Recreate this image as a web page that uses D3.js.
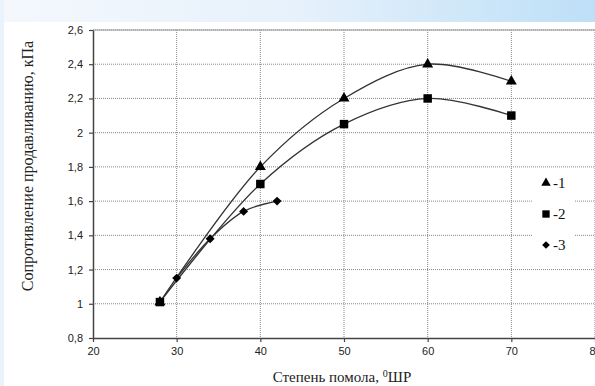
<!DOCTYPE html>
<html><head><meta charset="utf-8">
<script src="https://cdn.jsdelivr.net/npm/d3@7"></script>
<style>html,body{margin:0;padding:0;background:#fff;}svg{display:block;}</style>
</head><body>
<svg id="c" width="595" height="386"></svg>
<script>
const xTicks = [20, 30, 40, 50, 60, 70, 80];
const yTicks = [0.8, 1, 1.2, 1.4, 1.6, 1.8, 2, 2.2, 2.4, 2.6];
const s1x = [28, 40, 50, 60, 70];
const s1y = [1.01, 1.8, 2.2, 2.4, 2.3];
const s2x = [28, 40, 50, 60, 70];
const s2y = [1.01, 1.7, 2.05, 2.2, 2.1];
const s3x = [30, 34, 38, 42];
const s3y = [1.15, 1.38, 1.54, 1.6];
const legendLabels = ["-1", "-2", "-3"];

const svg = d3.select("#c");
const defs = svg.append("defs");
const g1 = defs.append("linearGradient").attr("id","topg").attr("x1","0").attr("x2","1").attr("y1","0").attr("y2","0");
g1.append("stop").attr("offset","0").attr("stop-color","#f4f8fd");
g1.append("stop").attr("offset","0.5").attr("stop-color","#e6f1fb");
g1.append("stop").attr("offset","1").attr("stop-color","#bddff7");
svg.append("rect").attr("x",0).attr("y",0).attr("width",595).attr("height",22).attr("fill","url(#topg)");
svg.append("rect").attr("x",0).attr("y",0).attr("width",4).attr("height",386).attr("fill","#eaf3fc");

const L = 93, R = 595, T = 30, B = 338;
const x = d3.scaleLinear().domain([20, 80]).range([L, R]);
const y = d3.scaleLinear().domain([0.8, 2.6]).range([B, T]);

// grid
const grid = svg.append("g");
grid.selectAll("line.gx").data(xTicks.slice(1)).enter().append("line")
  .attr("x1", d => x(d)).attr("x2", d => x(d)).attr("y1", T).attr("y2", B)
  .attr("stroke", "#888").attr("stroke-width", 1).attr("stroke-dasharray", "1,1");
grid.selectAll("line.gy").data(yTicks.slice(1)).enter().append("line")
  .attr("x1", L).attr("x2", R).attr("y1", d => y(d)).attr("y2", d => y(d))
  .attr("stroke", "#888").attr("stroke-width", 1).attr("stroke-dasharray", "1,1");
svg.append("line").attr("x1", L).attr("x2", R).attr("y1", T).attr("y2", T).attr("stroke", "#999").attr("stroke-width", 1);

// axes
const fmt = d => String(+d.toFixed(1)).replace(".", ",");
const ax = svg.append("g").attr("transform", `translate(0,${B})`)
  .call(d3.axisBottom(x).tickValues(xTicks).tickSize(4).tickSizeOuter(0).tickFormat(d3.format("d")));
const ay = svg.append("g").attr("transform", `translate(${L},0)`)
  .call(d3.axisLeft(y).tickValues(yTicks).tickSize(4).tickSizeOuter(0).tickFormat(fmt));
[ax, ay].forEach(a => {
  a.select(".domain").attr("stroke", "#444").attr("stroke-width", 1.5);
  a.selectAll(".tick line").attr("stroke", "#444").attr("stroke-width", 1.2);
  a.selectAll(".tick text").attr("font-family", "Liberation Sans, Arial, sans-serif").attr("font-size", 11).attr("fill", "#222");
});
ax.selectAll(".tick text").attr("dy", "0.71em").attr("y", 9);
ay.selectAll(".tick text").attr("x", -10);

// curves
const line = d3.line().x(d => x(d[0])).y(d => y(d[1])).curve(d3.curveCatmullRom.alpha(0.5));
const series = [
  { xs: s1x, ys: s1y, sym: d3.symbolTriangle, size: 52, rot: 0 },
  { xs: s2x, ys: s2y, sym: d3.symbolSquare, size: 72, rot: 0 },
  { xs: s3x, ys: s3y, sym: d3.symbolSquare, size: 40, rot: 45 }
];
series.forEach(s => {
  const pts = s.xs.map((v, i) => [v, s.ys[i]]);
  svg.append("path").datum(pts).attr("d", line).attr("fill", "none").attr("stroke", "#333").attr("stroke-width", 1.3);
});
series.forEach(s => {
  const pts = s.xs.map((v, i) => [v, s.ys[i]]);
  svg.selectAll(null).data(pts).enter().append("path")
    .attr("d", d3.symbol().type(s.sym).size(s.size))
    .attr("transform", d => `translate(${x(d[0])},${y(d[1])}) rotate(${s.rot})`)
    .attr("fill", "#000");
});

// legend
const lg = svg.append("g");
lg.append("rect").attr("x", 533).attr("y", 168).attr("width", 42).attr("height", 88).attr("fill", "#fff");
const ly = [183, 214, 245];
series.forEach((s, i) => {
  lg.append("path").attr("d", d3.symbol().type(s.sym).size(s.size * 0.75)())
    .attr("transform", `translate(546,${ly[i]}) rotate(${s.rot})`).attr("fill", "#000");
  lg.append("text").attr("x", 553).attr("y", ly[i] + 5).text(legendLabels[i])
    .attr("font-family", "Liberation Serif, Times New Roman, serif").attr("font-size", 15).attr("fill", "#111");
});

// titles
svg.append("text").attr("transform", "translate(33,166) rotate(-90)").attr("text-anchor", "middle")
  .attr("font-family", "Liberation Serif, Times New Roman, serif").attr("font-size", 16).attr("fill", "#222")
  .text("Сопротивление продавливанию, кПа");
const xt = svg.append("text").attr("x", 342).attr("y", 382).attr("text-anchor", "middle")
  .attr("font-family", "Liberation Serif, Times New Roman, serif").attr("font-size", 15).attr("fill", "#222");
xt.append("tspan").text("Степень помола, ");
xt.append("tspan").attr("font-size", 10).attr("dy", -5).text("0");
xt.append("tspan").attr("dy", 5).text("ШР");
</script>
</body></html>
